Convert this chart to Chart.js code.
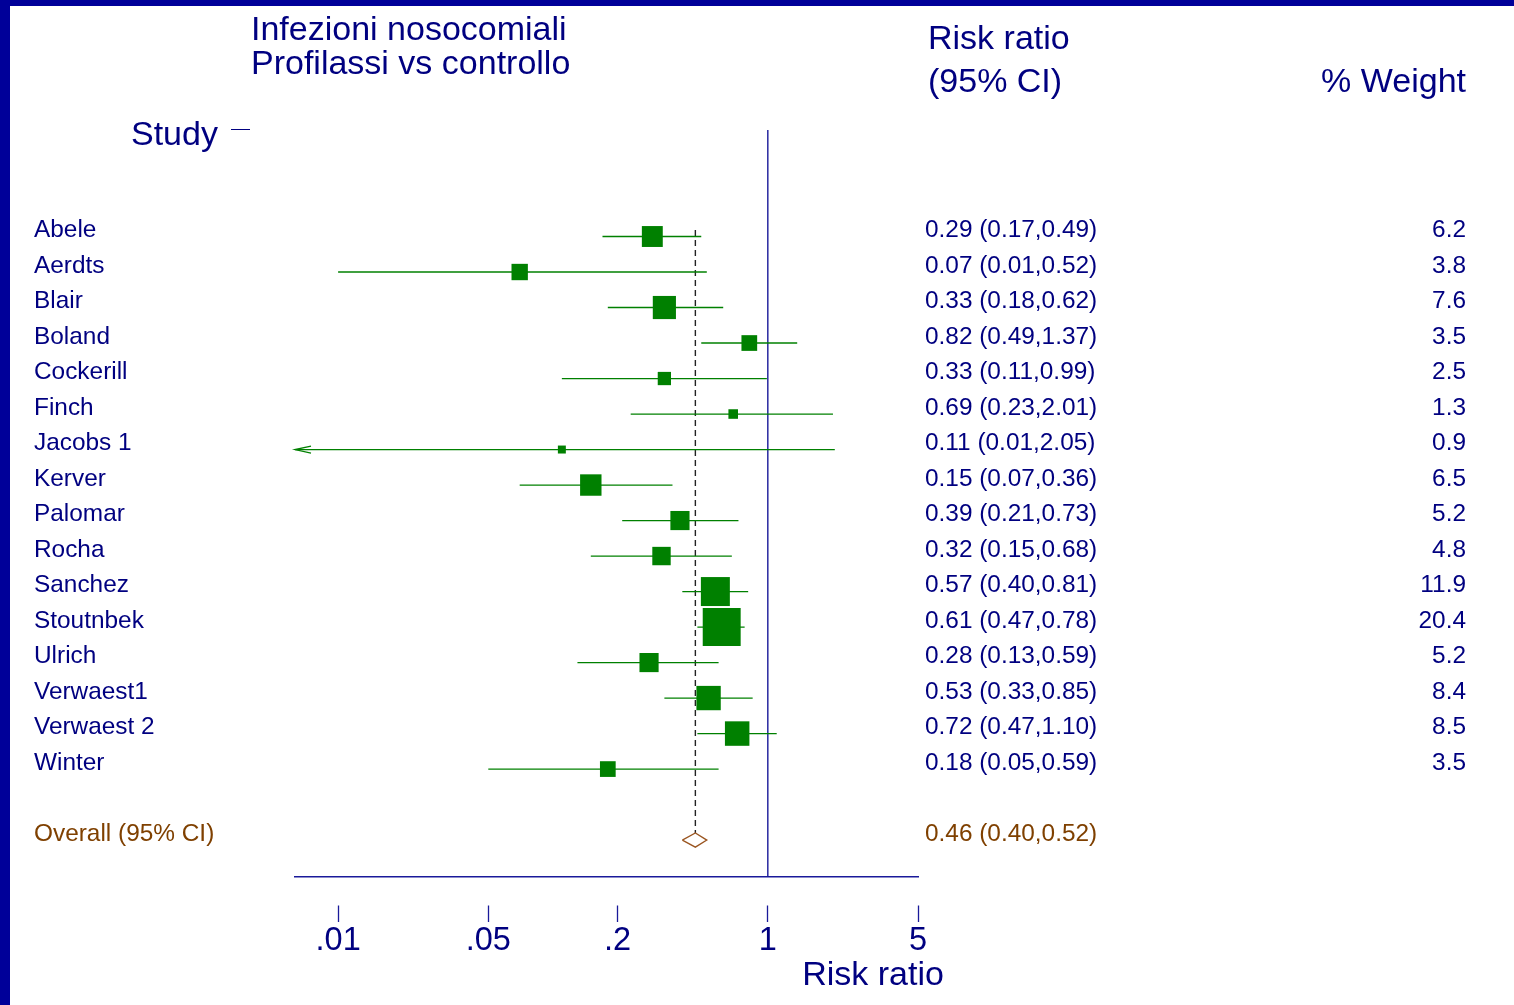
<!DOCTYPE html>
<html>
<head>
<meta charset="utf-8">
<script src="https://cdn.jsdelivr.net/npm/chart.js@4.4.1/dist/chart.umd.min.js"></script>
<style>
  html, body { margin: 0; padding: 0; background: #fff; overflow: hidden; }
  #frame { position: absolute; left: 0; top: 0; width: 1514px; height: 1005px;
           box-sizing: border-box; border-left: 10px solid #000099; border-top: 6px solid #000099; background: #fff; }
  #c { position: absolute; left: 0; top: 0; }
</style>
</head>
<body>
<div id="frame"></div>
<canvas id="c" width="1514" height="1005"></canvas>
<script>
// Infezioni nosocomiali — profilassi vs controllo (risk ratio, 95% CI)
const studies = ['Abele', 'Aerdts', 'Blair', 'Boland', 'Cockerill', 'Finch', 'Jacobs 1', 'Kerver',
                 'Palomar', 'Rocha', 'Sanchez', 'Stoutnbek', 'Ulrich', 'Verwaest1', 'Verwaest 2', 'Winter'];
const riskRatio = [0.29, 0.07, 0.33, 0.82, 0.33, 0.69, 0.11, 0.15, 0.39, 0.32, 0.57, 0.61, 0.28, 0.53, 0.72, 0.18];
const ciLow     = [0.17, 0.01, 0.18, 0.49, 0.11, 0.23, 0.006, 0.07, 0.21, 0.15, 0.40, 0.47, 0.13, 0.33, 0.47, 0.05];
const ciHigh    = [0.49, 0.52, 0.62, 1.37, 0.99, 2.01, 2.05, 0.36, 0.73, 0.68, 0.81, 0.78, 0.59, 0.85, 1.10, 0.59];
const weights   = [6.2, 3.8, 7.6, 3.5, 2.5, 1.3, 0.9, 6.5, 5.2, 4.8, 11.9, 20.4, 5.2, 8.4, 8.5, 3.5];
const overallRR = 0.46, overallLow = 0.40, overallHigh = 0.52;
const overallLabel = 'Overall (95% CI)';
const xTicks = [0.01, 0.05, 0.2, 1, 5];
const xTickLabels = ['.01', '.05', '.2', '1', '5'];
const titleLines = ['Infezioni nosocomiali', 'Profilassi vs controllo'];

const xMin = 0.0063, xMax = 5;          // log axis range
const yTop = -2, yBottom = 19.04;       // row axis range (row 1 = first study)
const overallRow = studies.length + 2;

const FONT = '"Liberation Sans", Arial, Helvetica, sans-serif';
const NAVY = '#000080';
const GREEN = '#008000';
const BROWN = '#7f4000';
const DIAMOND = '#9a5520';
const HEAD = 34, ROW = 24.4;

const boxSide = w => 8.4 * Math.sqrt(w);

const datasets = [];

// study boxes (area proportional to weight)
datasets.push({
  type: 'scatter',
  data: riskRatio.map((v, i) => ({ x: v, y: i + 1 })),
  pointStyle: 'rect',
  pointRadius: weights.map(w => boxSide(w) / Math.SQRT2),
  pointBackgroundColor: GREEN,
  pointBorderColor: GREEN,
  pointBorderWidth: 0,
  showLine: false
});

// pooled estimate diamond
datasets.push({
  type: 'line',
  data: [
    { x: overallLow, y: overallRow }, { x: overallRR, y: overallRow - 0.2 },
    { x: overallHigh, y: overallRow }, { x: overallRR, y: overallRow + 0.2 },
    { x: overallLow, y: overallRow }
  ],
  borderColor: DIAMOND, borderWidth: 1.3, pointRadius: 0, tension: 0, fill: false
});

// confidence intervals
studies.forEach((s, i) => {
  datasets.push({
    type: 'line',
    data: [{ x: Math.max(ciLow[i], xMin), y: i + 1 }, { x: Math.min(ciHigh[i], xMax), y: i + 1 }],
    borderColor: GREEN, borderWidth: 1.3, pointRadius: 0, fill: false
  });
});

// pooled estimate reference (dashed)
datasets.push({
  type: 'line',
  data: [{ x: overallRR, y: 0.82 }, { x: overallRR, y: overallRow - 0.2 }],
  borderColor: '#222', borderWidth: 1.4, borderDash: [6, 4], pointRadius: 0, fill: false
});

// line of no effect
datasets.push({
  type: 'line',
  data: [{ x: 1, y: yTop }, { x: 1, y: yBottom }],
  borderColor: '#1a1a9a', borderWidth: 1.4, pointRadius: 0, fill: false
});

const forestText = {
  id: 'forestText',
  afterDatasetsDraw(chart) {
    const { ctx, scales: { x, y } } = chart;
    ctx.save();
    ctx.strokeStyle = GREEN;
    ctx.lineWidth = 1.3;
    ciLow.forEach((lo, i) => {
      if (lo < xMin) {
        const px = x.getPixelForValue(xMin);
        const py = y.getPixelForValue(i + 1);
        ctx.beginPath();
        ctx.moveTo(px + 16, py - 3.5);
        ctx.lineTo(px, py);
        ctx.lineTo(px + 16, py + 3.5);
        ctx.stroke();
      }
    });
    ctx.restore();
  },
  afterDraw(chart) {
    const { ctx, scales: { x, y } } = chart;
    ctx.save();
    const txt = (s, px, py, size, color, align) => {
      ctx.font = size + 'px ' + FONT;
      ctx.fillStyle = color;
      ctx.textAlign = align || 'left';
      ctx.textBaseline = 'alphabetic';
      ctx.fillText(s, px, py);
    };
    txt(titleLines[0], 251, 40, HEAD, NAVY);
    txt(titleLines[1], 251, 74, HEAD, NAVY);
    txt('Risk ratio', 928, 49, HEAD, NAVY);
    txt('(95% CI)', 928, 92, HEAD, NAVY);
    txt('% Weight', 1466, 92, HEAD, NAVY, 'right');
    txt('Study', 131, 145, HEAD, NAVY);
    ctx.strokeStyle = NAVY;
    ctx.lineWidth = 1;
    ctx.beginPath();
    ctx.moveTo(231, 129.5);
    ctx.lineTo(250, 129.5);
    ctx.stroke();

    const ci = (e, l, h) => e.toFixed(2) + ' (' + l.toFixed(2) + ',' + h.toFixed(2) + ')';
    studies.forEach((s, i) => {
      const py = y.getPixelForValue(i + 1) + 0.5;
      txt(s, 34, py, ROW, NAVY);
      txt(ci(riskRatio[i], ciLow[i], ciHigh[i]), 925, py, ROW, NAVY);
      txt(weights[i].toFixed(1), 1466, py, ROW, NAVY, 'right');
    });
    const po = y.getPixelForValue(overallRow) + 0.5;
    txt(overallLabel, 34, po, ROW, BROWN);
    txt(ci(overallRR, overallLow, overallHigh), 925, po, ROW, BROWN);

    txt('Risk ratio', 873, 985, HEAD, NAVY, 'center');
    ctx.restore();
  }
};

new Chart(document.getElementById('c'), {
  data: { datasets },
  options: {
    responsive: false,
    animation: false,
    events: [],
    layout: { padding: { left: 295, right: 596, top: 130, bottom: 0 } },
    datasets: { line: { clip: false }, scatter: { clip: false } },
    plugins: { legend: { display: false }, tooltip: { enabled: false } },
    scales: {
      x: {
        type: 'logarithmic',
        position: 'bottom',
        min: xMin,
        max: xMax,
        afterBuildTicks: s => { s.ticks = xTicks.map(v => ({ value: v })); },
        afterFit: s => { s.height = 128; },
        border: { display: true, color: '#1a1a9a', width: 1.4 },
        grid: {
          drawOnChartArea: false, drawTicks: true, tickLength: 45,
          tickColor: '#1a1a9a', tickWidth: 1.3, tickBorderDash: [0, 28, 17, 400]
        },
        ticks: {
          autoSkip: false, maxRotation: 0, minRotation: 0, padding: 0,
          color: NAVY, font: { family: FONT, size: 32.5 },
          callback: (v, i) => xTickLabels[i]
        }
      },
      y: { type: 'linear', reverse: true, min: yTop, max: yBottom, display: false }
    }
  },
  plugins: [forestText]
});
</script>
</body>
</html>
